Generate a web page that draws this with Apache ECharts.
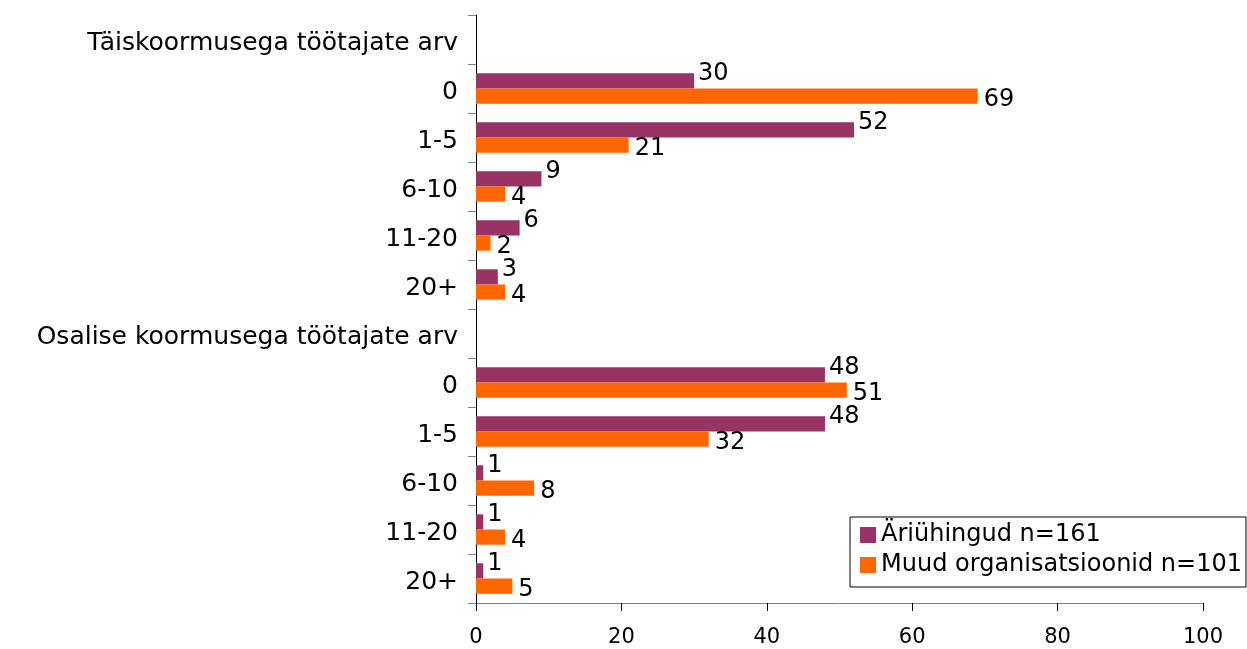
<!DOCTYPE html>
<html lang="et">
<head>
    <meta charset="UTF-8">
    <title>Töötajate arv</title>
    <style>
        html, body { margin: 0; padding: 0; background: #fff; }
        #chart { width: 1247px; height: 649px; }
    </style>
</head>
<body>
    <div id="chart"></div>

    <script src="https://cdn.jsdelivr.net/npm/echarts@6/dist/echarts.min.js"></script>
    <script>
        // kategooriad ülevalt alla, pealkirjaread ilma tulpadeta
        let categories = ['Täiskoormusega töötajate arv', '0', '1-5', '6-10', '11-20', '20+',
                          'Osalise koormusega töötajate arv', '0', '1-5', '6-10', '11-20', '20+']
        let ariuhingud = [null, 30, 52, 9, 6, 3, null, 48, 48, 1, 1, 1]
        let muud = [null, 69, 21, 4, 2, 4, null, 51, 32, 8, 4, 5]
        let xTicks = [0, 20, 40, 60, 80, 100]

        let font = 'DejaVu Sans, Verdana, sans-serif'
        let chart = echarts.init(document.getElementById('chart'))

        let option = {
            animation: false,
            textStyle: { fontFamily: font },
            grid: { left: 476, right: 44, top: 15, bottom: 46, containLabel: false },
            legend: {
                orient: 'vertical',
                right: 1,
                top: 517,
                itemWidth: 16,
                itemHeight: 16,
                itemGap: 6,
                padding: [6, 4, 10, 10],
                borderColor: '#000',
                borderWidth: 1,
                icon: 'rect',
                textStyle: { fontSize: 24, color: '#000', fontFamily: font },
                data: ['Äriühingud n=161', 'Muud organisatsioonid n=101']
            },
            xAxis: {
                type: 'value',
                min: xTicks[0],
                max: xTicks[xTicks.length - 1],
                interval: 20,
                splitLine: { show: false },
                axisLine: { show: true, lineStyle: { color: '#808080' } },
                axisTick: { show: true, length: 8, lineStyle: { color: '#000' } },
                axisLabel: { fontSize: 21, color: '#000', margin: 24, fontFamily: font }
            },
            yAxis: {
                type: 'category',
                inverse: true,
                data: categories,
                axisLine: { show: true, lineStyle: { color: '#000' } },
                axisTick: { show: true, length: 8, lineStyle: { color: '#808080' } },
                axisLabel: {
                    margin: 18,
                    formatter: v => '{a|' + v + '}',
                    rich: {
                        a: { fontSize: 25, color: '#000', fontFamily: font, padding: [8, 0, 0, 0] }
                    }
                }
            },
            series: [
                {
                    name: 'Äriühingud n=161',
                    type: 'bar',
                    data: ariuhingud,
                    itemStyle: { color: '#993366' },
                    barCategoryGap: '38%',
                    barGap: '0%',
                    label: {
                        show: true, position: 'right', distance: 4, offset: [0, -7],
                        fontSize: 24, color: '#000', fontFamily: font
                    }
                },
                {
                    name: 'Muud organisatsioonid n=101',
                    type: 'bar',
                    data: muud,
                    itemStyle: { color: '#ff6600' },
                    barCategoryGap: '38%',
                    barGap: '0%',
                    label: {
                        show: true, position: 'right', distance: 6, offset: [0, 4],
                        fontSize: 24, color: '#000', fontFamily: font
                    }
                }
            ]
        }
        chart.setOption(option)
    </script>
</body>
</html>
